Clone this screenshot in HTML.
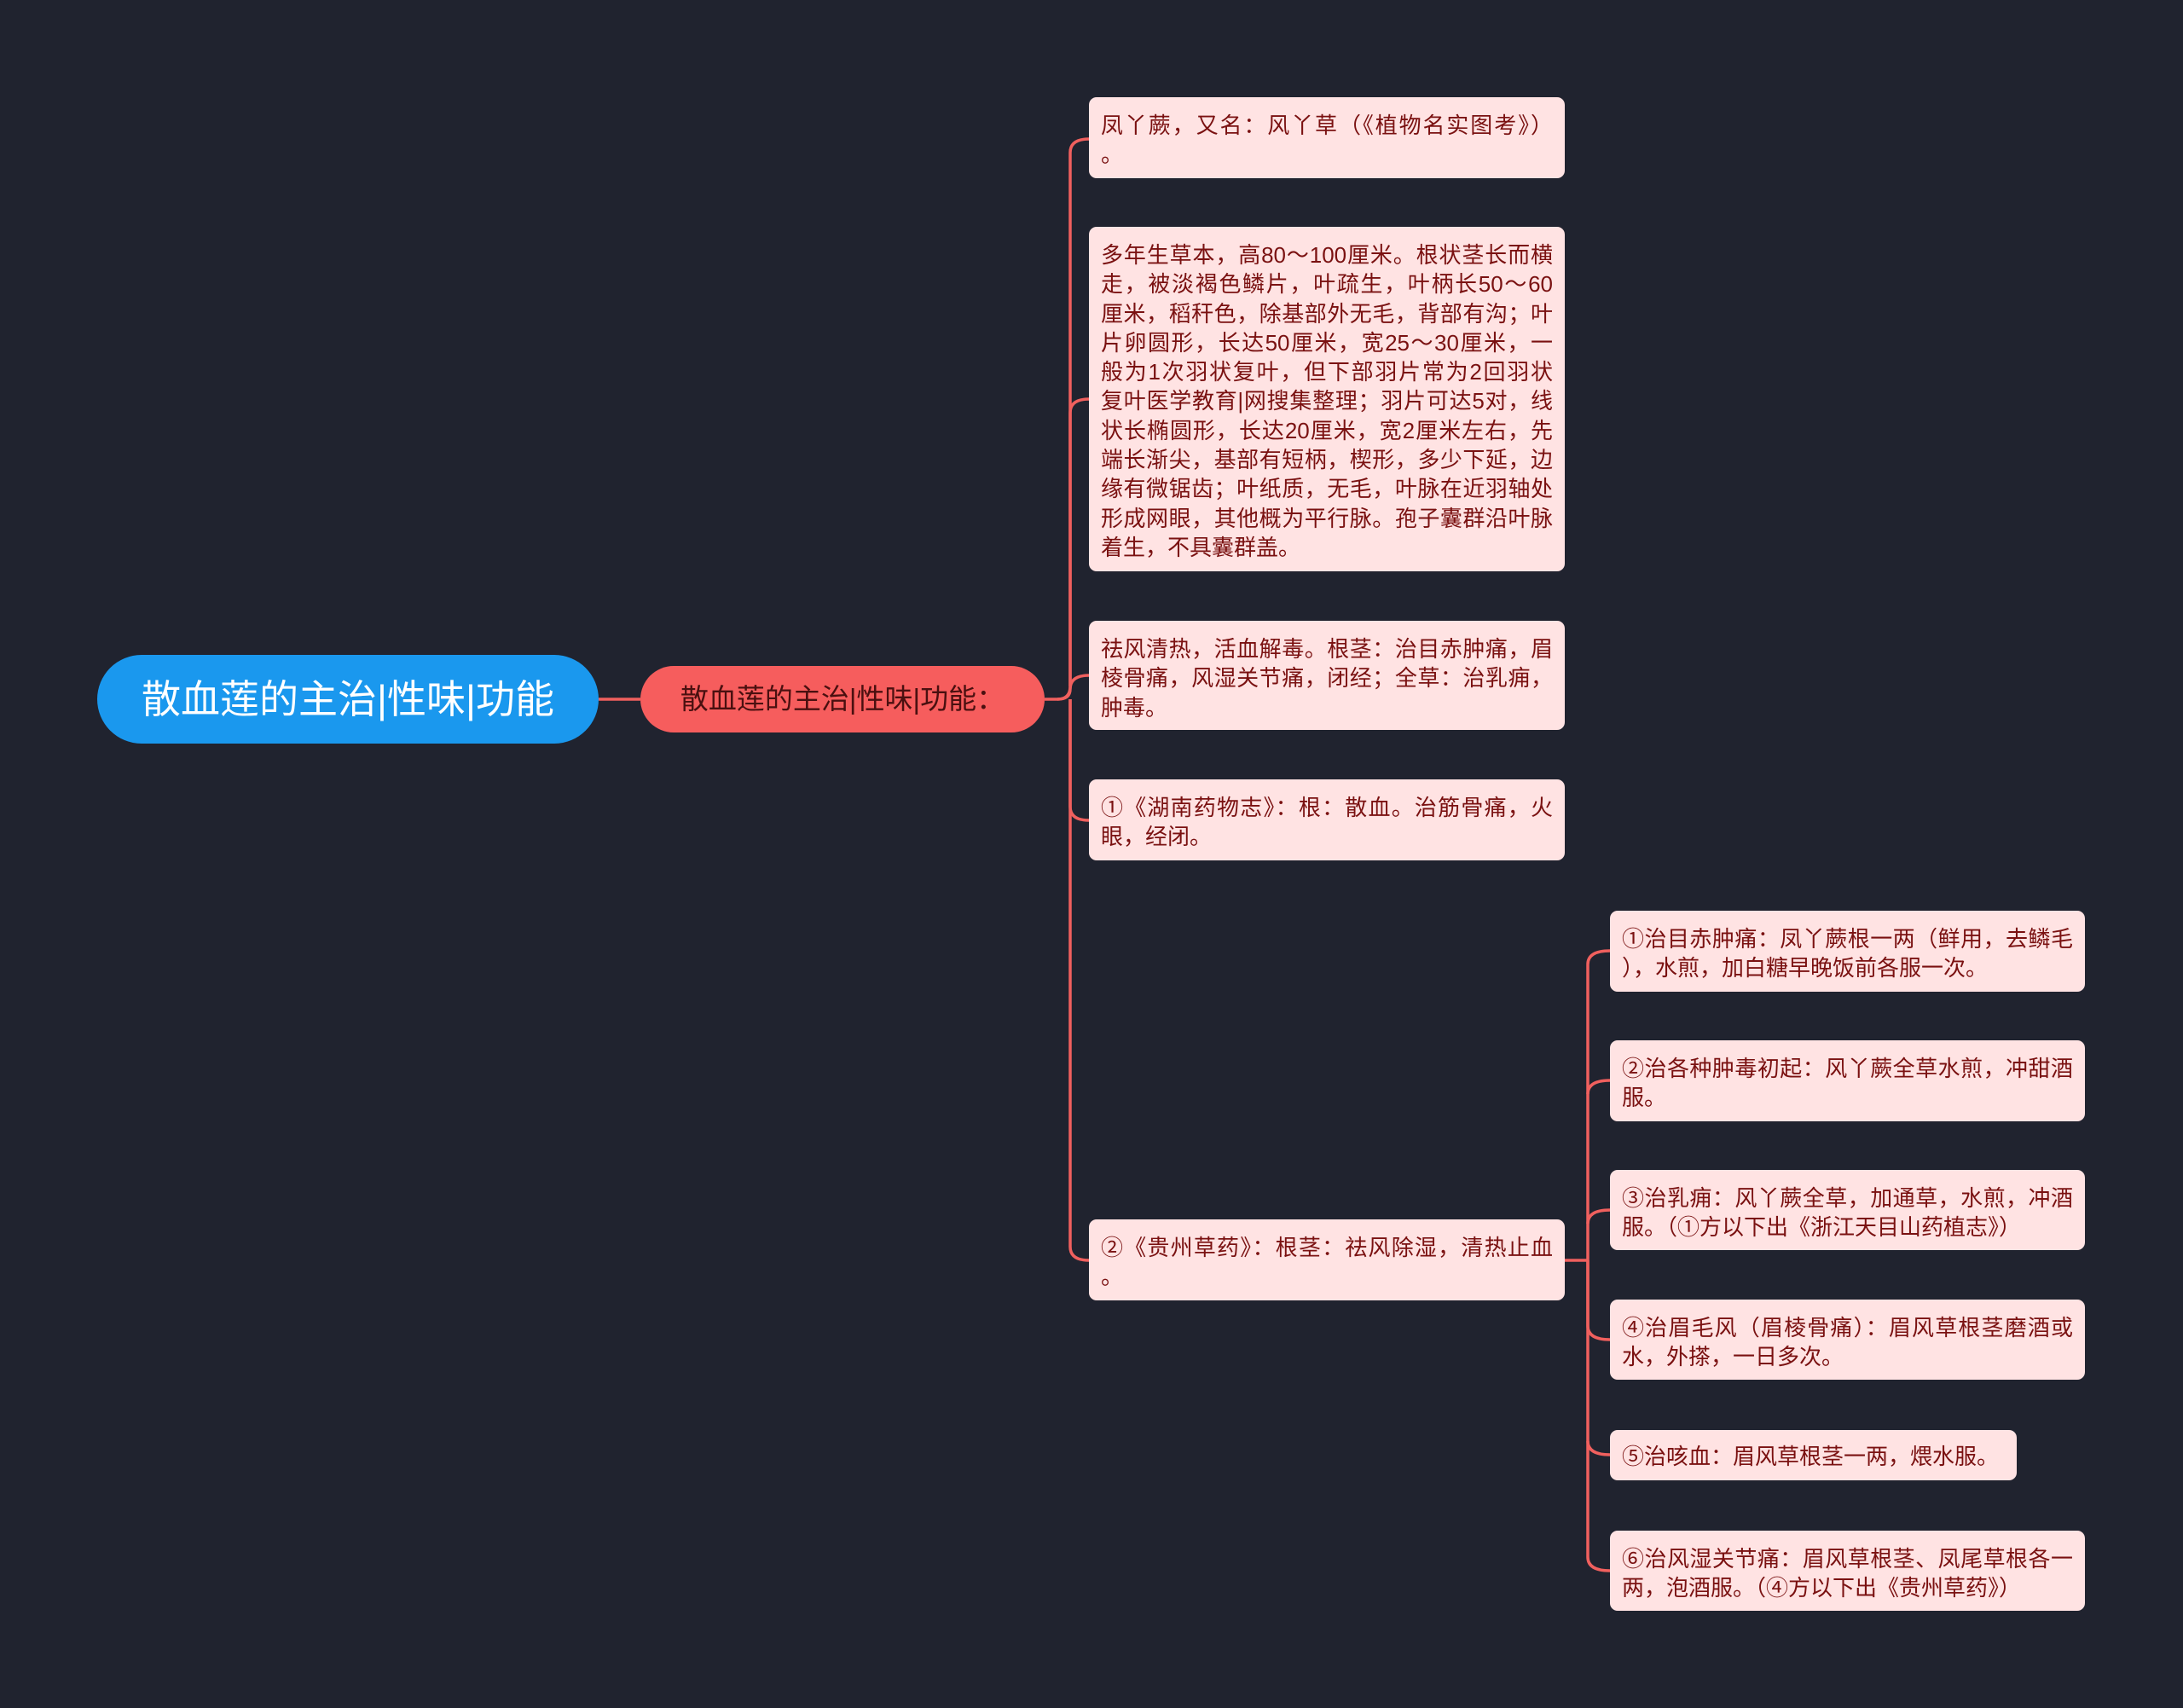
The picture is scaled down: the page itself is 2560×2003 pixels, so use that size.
<!DOCTYPE html>
<html><head><meta charset="utf-8"><style>
body{margin:0;width:2560px;height:2003px;background:#20232f;overflow:hidden;position:relative;font-family:"Liberation Sans","Noto Sans CJK SC",sans-serif}
.n{position:absolute;background:#ffe3e3;border-radius:9px;color:#7a1111;font-size:26px;line-height:34.3px;padding:16px 14px 10px;box-sizing:border-box}
.n div{text-align:justify;text-align-last:justify;white-space:nowrap}
.n div.l{text-align-last:left}
svg{position:absolute;left:0;top:0}
</style></head><body>
<svg width="2560" height="2003" fill="none" stroke="#f0605e" stroke-width="3.5">
<path d="M702 820 H751"/>
<path d="M1225 820 H1240 Q1255 820 1255 805 V179 Q1255 163 1277 163"/>
<path d="M1255 805 V484 Q1255 468 1277 468"/>
<path d="M1240 820 Q1255 820 1255 808 Q1255 792 1277 792"/>
<path d="M1255 820 V946 Q1255 962 1277 962"/>
<path d="M1255 820 V1462 Q1255 1478 1277 1478"/>
<path d="M1835 1478 H1862 M1862 1478 V1131 Q1862 1115 1888 1115"/>
<path d="M1862 1283 Q1862 1267 1888 1267"/>
<path d="M1862 1435 Q1862 1419 1888 1419"/>
<path d="M1862 1478 V1555 Q1862 1571 1888 1571"/>
<path d="M1862 1690 Q1862 1706 1888 1706"/>
<path d="M1862 1478 V1826 Q1862 1842 1888 1842"/>
</svg>
<div style="position:absolute;left:114px;top:768px;width:588px;height:104px;border-radius:52px;background:#1a98ee;color:#fff;font-size:46px;line-height:104px;text-align:center">散血莲的主治|性味|功能</div>
<div style="position:absolute;left:751px;top:781px;width:474px;height:78px;border-radius:39px;background:#f65d5d;color:#4a1010;font-size:33px;line-height:78px;text-align:center">散血莲的主治|性味|功能：</div>

<div class="n" style="left:1277px;top:114px;width:558px;height:95px"><div>凤丫蕨，又名：风丫草（《植物名实图考》）</div><div class="l">。</div></div>
<div class="n" style="left:1277px;top:266px;width:558px;height:404px">
<div>多年生草本，高80～100厘米。根状茎长而横</div>
<div>走，被淡褐色鳞片，叶疏生，叶柄长50～60</div>
<div>厘米，稻秆色，除基部外无毛，背部有沟；叶</div>
<div>片卵圆形，长达50厘米，宽25～30厘米，一</div>
<div>般为1次羽状复叶，但下部羽片常为2回羽状</div>
<div>复叶医学教育|网搜集整理；羽片可达5对，线</div>
<div>状长椭圆形，长达20厘米，宽2厘米左右，先</div>
<div>端长渐尖，基部有短柄，楔形，多少下延，边</div>
<div>缘有微锯齿；叶纸质，无毛，叶脉在近羽轴处</div>
<div>形成网眼，其他概为平行脉。孢子囊群沿叶脉</div>
<div class="l">着生，不具囊群盖。</div></div>
<div class="n" style="left:1277px;top:728px;width:558px;height:128px">
<div>祛风清热，活血解毒。根茎：治目赤肿痛，眉</div>
<div>棱骨痛，风湿关节痛，闭经；全草：治乳痈，</div>
<div class="l">肿毒。</div></div>
<div class="n" style="left:1277px;top:914px;width:558px;height:95px">
<div>①《湖南药物志》：根：散血。治筋骨痛，火</div><div class="l">眼，经闭。</div></div>
<div class="n" style="left:1277px;top:1430px;width:558px;height:95px">
<div>②《贵州草药》：根茎：祛风除湿，清热止血</div><div class="l">。</div></div>

<div class="n" style="left:1888px;top:1068px;width:557px;height:95px"><div>①治目赤肿痛：凤丫蕨根一两（鲜用，去鳞毛</div><div class="l">），水煎，加白糖早晚饭前各服一次。</div></div>
<div class="n" style="left:1888px;top:1220px;width:557px;height:95px"><div>②治各种肿毒初起：风丫蕨全草水煎，冲甜酒</div><div class="l">服。</div></div>
<div class="n" style="left:1888px;top:1372px;width:557px;height:94px"><div>③治乳痈：风丫蕨全草，加通草，水煎，冲酒</div><div class="l">服。（①方以下出《浙江天目山药植志》）</div></div>
<div class="n" style="left:1888px;top:1524px;width:557px;height:94px"><div>④治眉毛风（眉棱骨痛）：眉风草根茎磨酒或</div><div class="l">水，外搽，一日多次。</div></div>
<div class="n" style="left:1888px;top:1677px;width:477px;height:59px;padding-top:14px"><div class="l">⑤治咳血：眉风草根茎一两，煨水服。</div></div>
<div class="n" style="left:1888px;top:1795px;width:557px;height:94px"><div>⑥治风湿关节痛：眉风草根茎、凤尾草根各一</div><div class="l">两，泡酒服。（④方以下出《贵州草药》）</div></div>
</body></html>
